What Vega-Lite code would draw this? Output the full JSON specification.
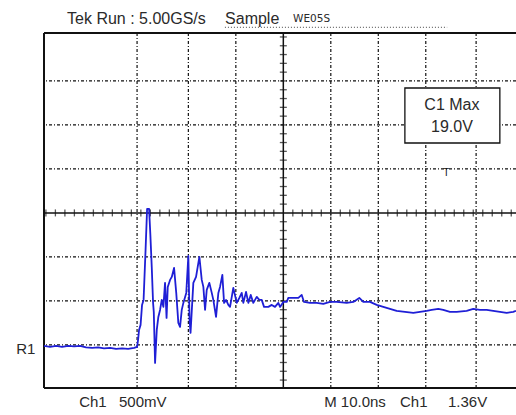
{
  "$schema": "https://vega.github.io/schema/vega-lite/v6.json",
  "width": 472,
  "height": 355,
  "autosize": {"type": "none"},
  "padding": {"left": 44, "top": 33, "right": 0, "bottom": 27},
  "background": "white",
  "config": {"view": {"stroke": null}, "text": {"font": "Liberation Sans"}},
  "datasets": {
    "one": [{}],
    "wave": [
      {"t": -50.4, "v": -3.023}, {"t": -49.12, "v": -3.045}, {"t": -47.85, "v": -3.023}, {"t": -46.59, "v": -3.045},
      {"t": -45.33, "v": -3.023}, {"t": -44.06, "v": -3.034}, {"t": -42.8, "v": -3.023}, {"t": -41.54, "v": -3.057},
      {"t": -40.27, "v": -3.068}, {"t": -39.01, "v": -3.057}, {"t": -37.75, "v": -3.08}, {"t": -36.48, "v": -3.068},
      {"t": -35.22, "v": -3.091}, {"t": -33.96, "v": -3.08}, {"t": -32.69, "v": -3.091}, {"t": -31.43, "v": -3.068},
      {"t": -30.8, "v": -3.045}, {"t": -30.59, "v": -2.886}, {"t": -30.38, "v": -2.659}, {"t": -30.06, "v": -2.545},
      {"t": -29.75, "v": -2.091}, {"t": -29.43, "v": -1.977}, {"t": -29.01, "v": -0.841}, {"t": -28.69, "v": 0.091},
      {"t": -28.27, "v": 0.091}, {"t": -28.0, "v": -0.5}, {"t": -27.71, "v": -1.227}, {"t": -27.43, "v": -2.045},
      {"t": -27.28, "v": -2.25}, {"t": -27.01, "v": -3.409}, {"t": -26.65, "v": -2.659}, {"t": -26.32, "v": -2.364},
      {"t": -25.96, "v": -2.205}, {"t": -25.6, "v": -1.977}, {"t": -25.26, "v": -2.136}, {"t": -24.91, "v": -1.591},
      {"t": -24.59, "v": -2.386}, {"t": -24.34, "v": -1.682}, {"t": -23.85, "v": -1.523}, {"t": -23.49, "v": -1.455},
      {"t": -23.01, "v": -1.25}, {"t": -22.55, "v": -1.818}, {"t": -22.11, "v": -2.5}, {"t": -21.75, "v": -2.591},
      {"t": -21.39, "v": -2.205}, {"t": -21.05, "v": -2.045}, {"t": -20.44, "v": -1.818}, {"t": -20.0, "v": -0.977},
      {"t": -19.75, "v": -2.432}, {"t": -19.54, "v": -2.727}, {"t": -18.95, "v": -1.591}, {"t": -18.38, "v": -1.455},
      {"t": -17.68, "v": -1.0}, {"t": -17.18, "v": -1.523}, {"t": -16.84, "v": -1.682}, {"t": -16.48, "v": -2.205},
      {"t": -16.13, "v": -1.75}, {"t": -15.58, "v": -1.591}, {"t": -15.07, "v": -1.818}, {"t": -14.74, "v": -1.977},
      {"t": -14.17, "v": -2.364}, {"t": -13.68, "v": -1.818}, {"t": -13.33, "v": -1.682}, {"t": -12.84, "v": -1.409},
      {"t": -12.48, "v": -2.045}, {"t": -12.06, "v": -1.977}, {"t": -11.58, "v": -2.091}, {"t": -11.22, "v": -2.136},
      {"t": -10.53, "v": -1.705}, {"t": -9.81, "v": -2.045}, {"t": -9.26, "v": -1.932}, {"t": -8.76, "v": -1.818},
      {"t": -8.42, "v": -2.045}, {"t": -7.85, "v": -1.795}, {"t": -7.37, "v": -2.045}, {"t": -6.86, "v": -1.864},
      {"t": -6.32, "v": -2.045}, {"t": -5.6, "v": -1.909}, {"t": -5.05, "v": -1.977}, {"t": -4.55, "v": -1.977},
      {"t": -4.06, "v": -2.136}, {"t": -3.16, "v": -2.136}, {"t": -2.44, "v": -2.091}, {"t": -1.75, "v": -2.136},
      {"t": -1.05, "v": -2.045}, {"t": -0.69, "v": -2.136}, {"t": 0.0, "v": -2.023}, {"t": 0.72, "v": -2.023},
      {"t": 1.05, "v": -1.932}, {"t": 2.11, "v": -1.932}, {"t": 3.16, "v": -1.932}, {"t": 3.87, "v": -1.864},
      {"t": 4.36, "v": -2.023}, {"t": 5.62, "v": -2.045}, {"t": 7.03, "v": -2.045}, {"t": 8.42, "v": -2.068},
      {"t": 9.83, "v": -2.023}, {"t": 11.24, "v": -2.023}, {"t": 13.35, "v": -2.045}, {"t": 14.74, "v": -2.023},
      {"t": 16.0, "v": -1.932}, {"t": 16.84, "v": -2.023}, {"t": 18.25, "v": -2.023}, {"t": 19.66, "v": -2.091},
      {"t": 21.05, "v": -2.136}, {"t": 22.46, "v": -2.182}, {"t": 23.87, "v": -2.227}, {"t": 25.62, "v": -2.25},
      {"t": 27.37, "v": -2.273}, {"t": 28.78, "v": -2.25}, {"t": 30.19, "v": -2.227}, {"t": 31.24, "v": -2.205},
      {"t": 32.63, "v": -2.182}, {"t": 33.68, "v": -2.205}, {"t": 35.09, "v": -2.25}, {"t": 36.51, "v": -2.25},
      {"t": 38.61, "v": -2.227}, {"t": 40.0, "v": -2.182}, {"t": 41.41, "v": -2.205}, {"t": 42.82, "v": -2.205},
      {"t": 44.21, "v": -2.227}, {"t": 45.62, "v": -2.25}, {"t": 47.03, "v": -2.273}, {"t": 48.42, "v": -2.25},
      {"t": 48.99, "v": -2.227}
    ],
    "vgrid": [{"t": -30.8}, {"t": -20}, {"t": -10}, {"t": 10}, {"t": 20}, {"t": 30}, {"t": 40.6}],
    "hgrid": [{"v": 3}, {"v": 2}, {"v": 1}, {"v": -1}, {"v": -2}, {"v": -3}],
    "hticks": [
      {"t": -50}, {"t": -48}, {"t": -46}, {"t": -44}, {"t": -42}, {"t": -40}, {"t": -38}, {"t": -36}, {"t": -34}, {"t": -32},
      {"t": -30}, {"t": -28}, {"t": -26}, {"t": -24}, {"t": -22}, {"t": -20}, {"t": -18}, {"t": -16}, {"t": -14}, {"t": -12},
      {"t": -10}, {"t": -8}, {"t": -6}, {"t": -4}, {"t": -2}, {"t": 2}, {"t": 4}, {"t": 6}, {"t": 8}, {"t": 10},
      {"t": 12}, {"t": 14}, {"t": 16}, {"t": 18}, {"t": 20}, {"t": 22}, {"t": 24}, {"t": 26}, {"t": 28}, {"t": 30},
      {"t": 32}, {"t": 34}, {"t": 36}, {"t": 38}, {"t": 40}, {"t": 42}, {"t": 44}, {"t": 46}, {"t": 48}
    ],
    "vticks": [
      {"v": -3.8}, {"v": -3.6}, {"v": -3.4}, {"v": -3.2}, {"v": -3.0}, {"v": -2.8}, {"v": -2.6}, {"v": -2.4}, {"v": -2.2}, {"v": -2.0},
      {"v": -1.8}, {"v": -1.6}, {"v": -1.4}, {"v": -1.2}, {"v": -1.0}, {"v": -0.8}, {"v": -0.6}, {"v": -0.4}, {"v": -0.2},
      {"v": 0.2}, {"v": 0.4}, {"v": 0.6}, {"v": 0.8}, {"v": 1.0}, {"v": 1.2}, {"v": 1.4}, {"v": 1.6}, {"v": 1.8}, {"v": 2.0},
      {"v": 2.2}, {"v": 2.4}, {"v": 2.6}, {"v": 2.8}, {"v": 3.0}, {"v": 3.2}, {"v": 3.4}, {"v": 3.6}, {"v": 3.8}, {"v": 4.0}
    ],
    "title": [
      {"t": -45.54, "v": 4.41, "label": "Tek Run : 5.00GS/s"},
      {"t": -12.27, "v": 4.41, "label": "Sample"}
    ],
    "labels": [
      {"t": -43.0, "v": -4.29, "label": "Ch1"},
      {"t": -34.6, "v": -4.29, "label": "500mV"},
      {"t": 8.6, "v": -4.29, "label": "M 10.0ns"},
      {"t": 24.57, "v": -4.29, "label": "Ch1"},
      {"t": 34.67, "v": -4.29, "label": "1.36V"},
      {"t": -56.27, "v": -3.09, "label": "R1"}
    ],
    "small": [{"t": 2.04, "v": 4.4, "label": "WE05S"}],
    "boxtext": [{"t": 35.5, "v": 2.45, "label": "C1 Max"}, {"t": 35.5, "v": 1.95, "label": "19.0V"}],
    "box": [{"t": 25.6, "t2": 45.6, "v": 2.84, "v2": 1.59}],
    "trig": [{"t": 34.3, "v": 1.03, "label": "T"}],
    "dots": [{"t": -12.3, "t2": 34.5, "v": 4.22}]
  },
  "layer": [
    {
      "data": {"name": "hgrid"},
      "mark": {"type": "rule", "color": "#111", "strokeWidth": 1.2, "strokeDash": [3, 2, 1, 2]},
      "encoding": {"y": {"field": "v", "type": "quantitative", "scale": {"domain": [-3.98, 4.09], "nice": false, "zero": false}, "axis": null}}
    },
    {
      "data": {"name": "vgrid"},
      "mark": {"type": "rule", "color": "#111", "strokeWidth": 1.2, "strokeDash": [3, 2, 1, 2]},
      "encoding": {"x": {"field": "t", "type": "quantitative", "scale": {"domain": [-50.4, 49], "nice": false, "zero": false}, "axis": null}}
    },
    {
      "data": {"name": "box"},
      "mark": {"type": "rect", "fill": "white", "stroke": "#111", "strokeWidth": 1.3},
      "encoding": {
        "x": {"field": "t", "type": "quantitative"}, "x2": {"field": "t2"},
        "y": {"field": "v", "type": "quantitative"}, "y2": {"field": "v2"}
      }
    },
    {
      "data": {"name": "hticks"},
      "mark": {"type": "tick", "orient": "vertical", "color": "#111", "size": 7, "thickness": 1.3},
      "encoding": {"x": {"field": "t", "type": "quantitative"}, "y": {"datum": 0, "type": "quantitative"}}
    },
    {
      "data": {"name": "vticks"},
      "mark": {"type": "tick", "orient": "horizontal", "color": "#111", "size": 7, "thickness": 1.3},
      "encoding": {"y": {"field": "v", "type": "quantitative"}, "x": {"datum": 0, "type": "quantitative"}}
    },
    {
      "data": {"name": "one"},
      "mark": {"type": "rule", "color": "#111", "strokeWidth": 1.5},
      "encoding": {"x": {"datum": 0, "type": "quantitative"}}
    },
    {
      "data": {"name": "one"},
      "mark": {"type": "rule", "color": "#111", "strokeWidth": 1.5},
      "encoding": {"y": {"datum": 0, "type": "quantitative"}}
    },
    {
      "data": {"name": "one"},
      "mark": {"type": "rule", "color": "#111", "strokeWidth": 2},
      "encoding": {"x": {"datum": -50.4, "type": "quantitative"}}
    },
    {
      "data": {"name": "one"},
      "mark": {"type": "rule", "color": "#111", "strokeWidth": 2},
      "encoding": {"y": {"datum": 4.09, "type": "quantitative"}}
    },
    {
      "data": {"name": "one"},
      "mark": {"type": "rule", "color": "#111", "strokeWidth": 2},
      "encoding": {"y": {"datum": -3.98, "type": "quantitative"}}
    },
    {
      "data": {"name": "wave"},
      "mark": {"type": "line", "color": "#1f1fd6", "strokeWidth": 1.8, "strokeJoin": "round"},
      "encoding": {"x": {"field": "t", "type": "quantitative"}, "y": {"field": "v", "type": "quantitative"}}
    },
    {
      "data": {"name": "dots"},
      "mark": {"type": "rule", "color": "#444", "strokeWidth": 1, "strokeDash": [1, 2]},
      "encoding": {"x": {"field": "t", "type": "quantitative"}, "x2": {"field": "t2"}, "y": {"field": "v", "type": "quantitative"}}
    },
    {
      "data": {"name": "title"},
      "mark": {"type": "text", "align": "left", "baseline": "middle", "fontSize": 16, "color": "#2a2a2a"},
      "encoding": {"x": {"field": "t", "type": "quantitative"}, "y": {"field": "v", "type": "quantitative"}, "text": {"field": "label"}}
    },
    {
      "data": {"name": "labels"},
      "mark": {"type": "text", "align": "left", "baseline": "middle", "fontSize": 15, "color": "#2a2a2a"},
      "encoding": {"x": {"field": "t", "type": "quantitative"}, "y": {"field": "v", "type": "quantitative"}, "text": {"field": "label"}}
    },
    {
      "data": {"name": "small"},
      "mark": {"type": "text", "align": "left", "baseline": "middle", "fontSize": 10.5, "font": "DejaVu Sans", "color": "#2a2a2a"},
      "encoding": {"x": {"field": "t", "type": "quantitative"}, "y": {"field": "v", "type": "quantitative"}, "text": {"field": "label"}}
    },
    {
      "data": {"name": "boxtext"},
      "mark": {"type": "text", "align": "center", "baseline": "middle", "fontSize": 16, "color": "#2a2a2a"},
      "encoding": {"x": {"field": "t", "type": "quantitative"}, "y": {"field": "v", "type": "quantitative"}, "text": {"field": "label"}}
    },
    {
      "data": {"name": "trig"},
      "mark": {"type": "text", "align": "center", "baseline": "top", "fontSize": 10, "color": "#111"},
      "encoding": {"x": {"field": "t", "type": "quantitative"}, "y": {"field": "v", "type": "quantitative"}, "text": {"field": "label"}}
    }
  ]
}
